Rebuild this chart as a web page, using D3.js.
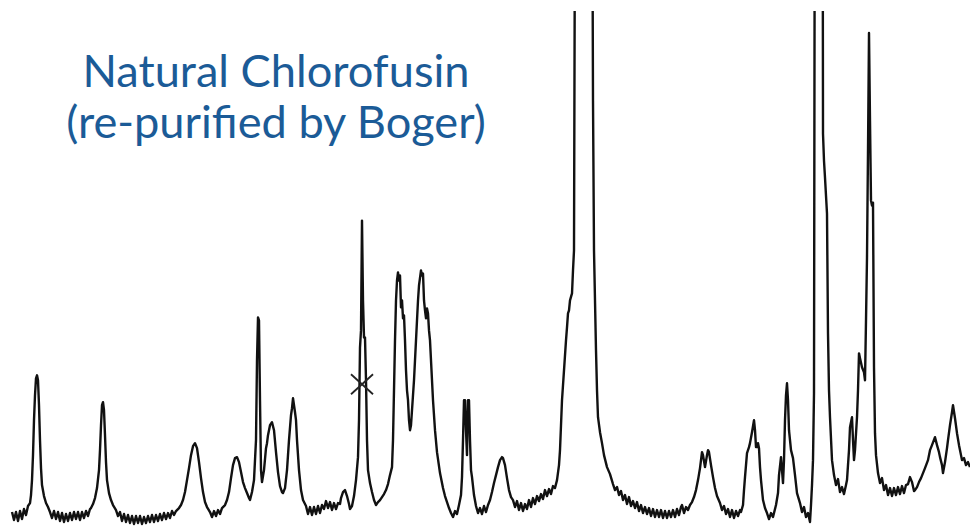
<!DOCTYPE html>
<html>
<head>
<meta charset="utf-8">
<title>Natural Chlorofusin</title>
<script src="https://cdn.jsdelivr.net/npm/d3@7"></script>
<style>
  body { margin: 0; background: #fff; }
  svg { display: block; }
  .title { fill: #1b5b97; font-family: Lato, "Open Sans", sans-serif; }
</style>
</head>
<body>
<div id="chart"></div>
<script>
// title lines
var titleLines = ["Natural Chlorofusin", "(re-purified by Boger)"];

// spectrum trace: [position, intensity]
var spectrum = [
  [12,13],[14,5],[16,13],[18,4],[20,14],[22,6],[24,16],[26,10],[28,19],[30,22],[31,30],[32,45],[33,70],[34,105],[35,130],[36,147],[37,150],[38,145],[39,120],[40,85],[41,57],[42,40],[44,29],[46,22],[48,18],[50,13],
  [52,7],[54,14],[56,6],[58,13],[60,4],[62,12],[64,3],[66,11],[68,4],[70,12],[72,5],[74,13],[76,6],[78,13],[80,5],[82,13],[84,7],[86,14],[88,9],[90,16],[91,17],[93,21],[95,27],[97,37],[99,55],[100,75],[101,100],[102,120],[103,123],[104,115],[105,90],[106,63],[107,45],[109,32],[111,25],[113,20],
  [116,15],[118,9],[120,13],[122,4],[124,11],[126,3],[128,10],[130,2],[132,9],[134,1],[136,9],[138,2],[140,9],[142,1],[144,8],[146,2],[148,9],[150,3],[152,10],[154,3],[156,10],[158,4],[160,11],[162,5],[164,12],[166,6],[168,12],[170,7],[172,14],[174,10],[176,14],[179,17],[181,20],[183,25],[185,33],[187,45],[189,57],[191,70],[193,79],[195,82],[197,77],[199,63],[201,47],[203,33],[205,23],[207,18],
  [210,13],[212,8],[214,14],[216,9],[218,15],[220,11],[222,17],[225,20],[227,25],[229,33],[231,47],[233,60],[235,67],[237,68],[239,63],[241,53],[243,43],[245,37],[247,32],[249,27],[250,25],[252,33],[254,45],[256,85],[257,165],[258,208],[259,205],[260,125],[261,55],[262,43],
  [264,55],[266,77],[267,82],[268,90],[270,100],[272,103],[274,95],[276,73],[278,53],[280,39],[282,33],[283,32],[285,37],[287,55],[289,85],[291,110],[292,117],[293,127],[294,120],[295,113],[296,105],[297,85],[299,55],[301,35],[303,25],[306,19],
  [308,11],[310,18],[312,10],[314,18],[316,11],[318,19],[320,12],[322,20],[324,16],[326,24],[328,17],[330,23],[332,15],[334,22],[336,16],[338,22],[340,21],[341,27],[343,33],[345,35],[347,29],[349,21],[350,16],[352,19],[354,29],[356,45],[358,68],[359,105],[360,178],[361,195],[362,305],[363,225],[364,188],[365,188],[366,145],[367,85],[368,55],
  [370,42],[372,33],[374,25],[376,20],[378,23],[380,25],[382,28],[384,31],[386,35],[388,41],[390,50],[392,58],[393,85],[394,135],[395,185],[396,225],[397,245],[398,253],[399,245],[400,250],[401,218],[402,225],[403,207],[404,210],[405,185],[406,155],[407,135],[408,125],[409,105],[410,95],[411,100],[412,115],
  [414,145],[415,165],[417,205],[418,225],[419,240],[421,255],[422,250],[423,252],[424,225],[425,215],[426,207],[427,217],[428,212],[429,195],[430,185],[431,165],[433,125],[435,95],[437,73],[440,52],[443,37],[445,29],[447,23],[449,17],[451,12],[453,8],[455,14],[457,11],[459,20],[461,30],
  [462,48],[463,85],[464,125],[465,125],[466,95],[467,70],[468,125],[469,125],[470,85],[471,55],[472,48],[474,30],[476,19],[478,12],[480,17],[482,11],[484,19],[486,13],[488,20],[490,25],[492,33],[494,42],[496,50],[498,58],[500,65],[502,68],[503,67],[505,60],[507,47],[509,35],[511,28],[513,25],
  [515,18],[517,24],[519,15],[521,22],[523,14],[525,21],[527,16],[529,25],[531,18],[533,27],[535,21],[537,29],[539,24],[541,31],[543,26],[545,35],[547,29],[549,36],[551,31],[553,39],[555,37],[557,45],[559,60],[560,75],[561,100],[562,125],[563,140],[564,155],[566,185],[567,198],[568,212],[569,215],[570,225],[572,232],[573,255],[574,275],
  [583,3525],[593,425],[594,275],[596,175],[597,135],[598,108],[600,93],[602,82],[604,70],[607,58],[610,51],[613,41],[615,35],[617,38],[619,30],[621,34],[623,25],[625,30],[627,21],[629,28],[631,19],[633,24],[635,17],[637,23],[639,14],[641,20],[643,12],[645,18],[647,11],[649,17],[651,9],[653,16],[655,8],[657,15],[659,8],[661,15],[663,7],[665,14],[667,7],[669,14],[671,8],[673,15],[675,8],[677,16],[679,10],[681,18],
  [682,20],[684,12],[686,18],[688,15],[690,20],[692,23],[694,28],[696,35],[698,45],[700,57],[701,65],[702,73],[703,70],[705,58],[707,70],[708,75],[709,73],[711,60],[713,48],[715,37],[717,29],[720,22],[722,15],[724,19],[726,11],[728,16],[730,8],[732,15],[734,7],[736,14],[738,9],[740,15],[741,13],
  [743,20],[744,35],[745,48],[746,60],[747,72],[749,78],[750,82],[752,93],[754,105],[755,95],[756,78],[757,78],[758,82],[759,77],[760,58],[761,45],[763,25],[765,17],[767,12],[769,6],[771,12],[773,8],[776,20],[778,32],[779,50],[781,68],[782,55],[783,42],[784,65],[785,105],[786,130],[787,142],[788,125],[789,95],[790,85],[791,75],[793,67],[795,50],[797,32],
  [800,22],[802,13],[804,18],[806,8],[808,12],[810,3],[811,20],[812,40],[813,65],[814,132],[819,3525],[823,392],[824,365],[825,348],[826,330],[827,312],[828,192],[829,135],[830,108],[832,65],[834,50],[836,40],[838,46],[840,33],[842,38],[844,31],[846,40],[847,45],[849,75],[850,98],[852,108],[853,85],[854,65],[855,75],
  [857,108],[858,135],[859,172],[860,167],[862,158],[864,153],[865,145],[866,205],[867,268],[868,375],[869,493],[870,405],[871,325],[872,320],[873,323],[874,158],[875,92],[876,70],[878,52],[880,42],[882,47],[884,35],[886,40],[888,30],[890,37],[892,29],[894,37],[896,30],[898,38],[900,31],[902,39],[904,32],[906,40],[908,41],[910,48],[912,43],[914,34],[915,35],
  [917,38],[919,43],[921,47],[923,52],[925,57],[928,65],[930,75],[932,80],[935,88],[937,80],[939,73],[940,68],[942,60],[943,52],[945,63],[947,77],[948,85],[950,100],[952,113],[953,120],[955,107],[957,92],[959,80],[961,70],[962,65],[964,67],[966,60],[968,63],[970,58]
];

// impurity mark (x-cross) on the peak near 362
var markers = [[362, 141]];

var width = 970, height = 532;
var margin = { top: 11, right: 0, bottom: 7, left: 0 };

var x = d3.scaleLinear().domain([0, 970]).range([0, width]);
var y = d3.scaleLinear().domain([0, 515]).range([height - margin.bottom, margin.top]);

var svg = d3.select("#chart").append("svg")
  .attr("width", width)
  .attr("height", height);

svg.append("clipPath").attr("id", "plotclip")
  .append("rect")
  .attr("x", 0).attr("y", margin.top)
  .attr("width", width).attr("height", height - margin.top);

var line = d3.line()
  .x(function (d) { return x(d[0]); })
  .y(function (d) { return y(d[1]); });

svg.append("path")
  .datum(spectrum)
  .attr("clip-path", "url(#plotclip)")
  .attr("d", line)
  .attr("fill", "none")
  .attr("stroke", "#111")
  .attr("stroke-width", 2.4)
  .attr("stroke-linejoin", "round");

// cross markers
var cross = svg.selectAll(".cross").data(markers).enter().append("g")
  .attr("class", "cross")
  .attr("transform", function (d) { return "translate(" + x(d[0]) + "," + y(d[1]) + ")"; });
cross.append("line").attr("x1", -11).attr("y1", -10).attr("x2", 11).attr("y2", 10);
cross.append("line").attr("x1", -11).attr("y1", 10).attr("x2", 11).attr("y2", -10);
cross.selectAll("line").attr("stroke", "#222").attr("stroke-width", 1.8);

// title, sized so the lines span roughly what the slide shows
var titleTargets = [385, 422];
var titleBaselines = [87, 138];
var t = svg.selectAll(".title").data(titleLines).enter().append("text")
  .attr("class", "title")
  .attr("x", 276)
  .attr("y", function (d, i) { return titleBaselines[i]; })
  .attr("text-anchor", "middle")
  .style("font-size", "44px")
  .text(function (d) { return d; });

var w0 = t.nodes()[0].getComputedTextLength();
var w1 = t.nodes()[1].getComputedTextLength();
var fs = 44 * ((titleTargets[0] / w0) + (titleTargets[1] / w1)) / 2;
t.style("font-size", fs + "px");
</script>
</body>
</html>
